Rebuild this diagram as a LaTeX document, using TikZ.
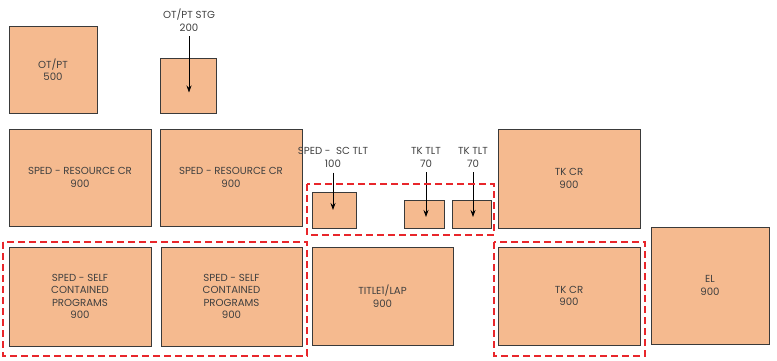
\documentclass[tikz,border=0pt]{standalone}
\usepackage{fontspec}
\setmainfont{Poppins}
\usetikzlibrary{arrows.meta}

\definecolor{roomfill}{HTML}{F5BA8F}
\definecolor{roomline}{HTML}{3A3A3A}
\definecolor{grptxt}{HTML}{404040}
\definecolor{grpred}{HTML}{E8262B}

\tikzset{
  room/.style={draw=roomline, fill=roomfill, line width=0.8pt, inner sep=0pt,
    align=center, text=grptxt, font=\fontsize{10.2}{12.4}\selectfont},
  tag/.style={align=center, text=grptxt, font=\fontsize{10.2}{12.4}\selectfont, inner sep=0pt},
  arr/.style={-{Stealth[length=7pt,width=5pt]}, line width=0.8pt},
  grp/.style={draw=grpred, line width=1.3pt, dash pattern=on 7pt off 4pt}
}

\begin{document}
\begin{tikzpicture}[x=1pt, y=-1pt]
\useasboundingbox (0,0) rectangle (777,360);

% top row
\node[room, minimum width=88, minimum height=87] (otpt) at (53,69.5) {OT/PT\\500};
\node[room, minimum width=56, minimum height=55] (stg) at (188,85.5) {};
\node[tag] (stglbl) at (189,20) {OT/PT STG\\200};
\draw[arr] ([yshift=-5pt]stglbl.south) -- ([yshift=-7pt]stglbl.south |- stg.center);

% resource rooms
\node[room, minimum width=142, minimum height=97] (src1) at (80,177.5) {SPED - RESOURCE CR\\900};
\node[room, minimum width=142, minimum height=97] (src2) at (231,177.5) {SPED - RESOURCE CR\\900};

% toilets
\node[room, minimum width=44, minimum height=36] (sctlt) at (334,210) {};
\node[tag] (sclbl) at (333,157.5) {SPED -\ \ SC TLT\\100};
\draw[arr] ([yshift=-5pt]sclbl.south) -- (sclbl.south |- sctlt.center);

\node[room, minimum width=40, minimum height=28] (tk1) at (424,214) {};
\node[tag] (tk1lbl) at (426,157.5) {TK TLT\\70};
\draw[arr] ([yshift=-5pt]tk1lbl.south) -- ([yshift=-3pt]tk1lbl.south |- tk1.center);

\node[room, minimum width=39, minimum height=28] (tk2) at (471.5,214) {};
\node[tag] (tk2lbl) at (473,157.5) {TK TLT\\70};
\draw[arr] ([yshift=-5pt]tk2lbl.south) -- ([yshift=-3pt]tk2lbl.south |- tk2.center);

\node[room, minimum width=142, minimum height=99] (tkcr1) at (569,178.5) {TK CR\\900};

% bottom row
\node[room, minimum width=142, minimum height=99] (self1) at (80,296.5) {SPED - SELF\\CONTAINED\\PROGRAMS\\900};
\node[room, minimum width=141, minimum height=99] (self2) at (231.5,296.5) {SPED - SELF\\CONTAINED\\PROGRAMS\\900};
\node[room, minimum width=141, minimum height=98] (title) at (382.5,296) {TITLE1/LAP\\900};
\node[room, minimum width=142, minimum height=98] (tkcr2) at (569,296) {TK CR\\900};
\node[room, minimum width=118, minimum height=117] (el) at (710,285.5) {EL\\900};

% dashed groups
\draw[grp] (3,242) rectangle (307,356);
\draw[grp] (307,184) rectangle (494,235);
\draw[grp] (494,242) rectangle (645,356);

\end{tikzpicture}
\end{document}
